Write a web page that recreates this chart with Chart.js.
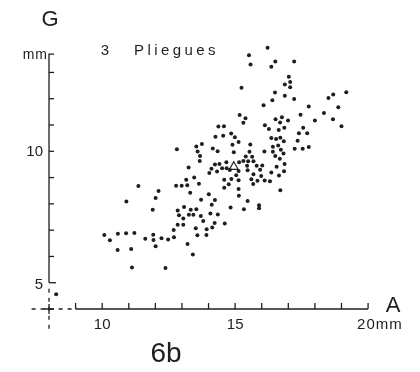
<!DOCTYPE html>
<html>
<head>
<meta charset="utf-8">
<script src="https://cdn.jsdelivr.net/npm/chart.js@4.4.1/dist/chart.umd.min.js"></script>
<style>
  html, body { margin: 0; padding: 0; background: #fff; }
  #wrap { width: 420px; height: 372px; position: relative; }
</style>
</head>
<body>
<div id="wrap"><canvas id="chart" width="420" height="372"></canvas></div>
<script>
// A (mm) and G (mm) readings for the 3-fold sample
const aValues = [
  16.22, 15.52, 15.58, 16.51, 16.36, 17.22, 17.02, 17.07, 16.87, 17.07,
  15.24, 16.50, 16.87, 17.22, 16.40, 19.18, 18.69, 18.51, 16.07, 17.77,
  18.88, 18.34, 17.46, 15.17, 15.39, 16.52, 16.76, 16.99, 18.00, 18.68,
  15.31, 16.69, 16.12, 16.27, 16.85, 19.00, 17.56, 14.37, 14.58, 17.40,
  17.71, 16.64, 14.26, 14.55, 14.85, 14.99, 16.36, 16.54, 16.70, 16.83,
  17.35, 15.13, 14.90, 15.57, 16.42, 16.62, 16.72, 17.24, 17.54, 17.77,
  12.81, 13.54, 13.75, 13.59, 14.16, 14.34, 14.95, 15.54, 16.10, 16.42,
  16.82, 16.51, 15.40, 15.64, 13.68, 16.68, 13.67, 15.31, 15.49, 15.69,
  15.15, 14.67, 16.86, 14.24, 14.41, 14.51, 15.81, 16.02, 16.56, 15.45,
  13.25, 14.11, 14.32, 14.03, 14.68, 14.80, 15.13, 15.47, 15.94, 16.36,
  16.84, 15.69, 15.98, 16.65, 15.04, 13.46, 13.16, 14.59, 14.86, 15.61,
  15.84, 16.11, 16.31, 15.13, 15.68, 14.76, 12.78, 12.99, 13.20, 13.64,
  11.36, 14.59, 15.13, 16.70, 13.31, 14.01, 12.12, 12.01, 10.91, 13.72,
  14.24, 15.14, 15.47, 14.12, 15.90, 15.90, 14.83, 15.33, 11.90, 13.08,
  12.84, 13.33, 13.54, 14.07, 14.35, 12.89, 13.26, 13.43, 13.71, 13.05,
  13.80, 14.23, 14.61, 12.84, 13.05, 14.14, 13.52, 13.93, 12.69, 10.08,
  10.59, 10.90, 11.21, 10.29, 11.62, 11.92, 11.93, 12.23, 12.48, 12.70,
  13.58, 13.92, 12.01, 13.21, 10.58, 11.09, 13.41, 11.12, 12.38, 8.27
];
const gValues = [
  13.94, 13.65, 13.30, 13.42, 13.22, 13.42, 12.84, 12.64, 12.54, 12.44,
  12.42, 12.24, 12.11, 11.99, 11.94, 12.25, 12.16, 12.03, 11.75, 11.70,
  11.68, 11.46, 11.39, 11.38, 11.26, 11.22, 11.30, 11.17, 11.17, 11.22,
  11.09, 11.10, 10.99, 10.85, 10.90, 10.95, 10.90, 10.94, 10.95, 10.69,
  10.69, 10.81, 10.55, 10.59, 10.68, 10.53, 10.51, 10.47, 10.52, 10.38,
  10.40, 10.35, 10.25, 10.26, 10.17, 10.22, 10.06, 10.10, 10.10, 10.16,
  10.08, 10.18, 10.28, 9.99, 10.11, 10.00, 9.96, 9.98, 9.99, 9.98,
  9.92, 9.82, 9.80, 9.79, 9.82, 9.72, 9.63, 9.63, 9.62, 9.62,
  9.58, 9.58, 9.52, 9.50, 9.52, 9.36, 9.45, 9.46, 9.41, 9.45,
  9.38, 9.34, 9.23, 9.17, 9.36, 9.29, 9.25, 9.28, 9.30, 9.19,
  9.24, 9.13, 9.06, 9.08, 9.09, 9.00, 8.92, 8.92, 8.95, 8.94,
  8.88, 8.89, 8.86, 8.90, 8.76, 8.75, 8.69, 8.69, 8.71, 8.77,
  8.68, 8.61, 8.57, 8.52, 8.42, 8.37, 8.49, 8.22, 8.09, 8.16,
  8.15, 8.31, 8.11, 7.97, 7.95, 7.83, 7.86, 7.80, 7.78, 7.88,
  7.75, 7.78, 7.80, 7.63, 7.60, 7.57, 7.59, 7.59, 7.54, 7.44,
  7.35, 7.27, 7.25, 7.21, 7.21, 7.10, 7.07, 7.03, 7.01, 6.82,
  6.86, 6.88, 6.89, 6.62, 6.67, 6.83, 6.63, 6.69, 6.64, 6.73,
  6.81, 6.82, 6.39, 6.47, 6.25, 6.28, 6.07, 5.58, 5.56, 4.56
];
// mean point (triangle)
const meanA = [14.95];
const meanG = [9.41];

// axis ticks
const xTicks = [9, 10, 11, 12, 13, 14, 15, 16, 17, 18, 19, 20];
const xTickLabels = { 10: '10', 15: '15', 20: '20mm' };
const yTicks = [5, 6, 7, 8, 9, 10, 11, 12, 13];
const yTickLabels = { 5: '5', 10: '10' };
const axisOrigin = [8, 4];
const yAxisTop = 13.7;

const ink = '#1e1e1e';
const font = '"Liberation Sans", Arial, sans-serif';

const toPoints = (xs, ys) => xs.map((x, i) => ({ x: x, y: ys[i] }));

// hand drawn looking axes with broken origin
const axesPlugin = {
    id: 'brokenAxes',
    afterDraw(chart) {
        const ctx = chart.ctx;
        const xs = chart.scales.x;
        const ys = chart.scales.y;
        const px = v => xs.getPixelForValue(v);
        const py = v => ys.getPixelForValue(v);

        const ax = px(axisOrigin[0]);
        const ay = py(axisOrigin[1]);
        const yStart = py(yTicks[0]);
        const yEnd = py(yAxisTop);
        const xStart = px(xTicks[0]);
        const xEnd = px(xTicks[xTicks.length - 1]);

        ctx.save();
        ctx.strokeStyle = ink;
        ctx.fillStyle = ink;
        ctx.lineWidth = 1.3;
        ctx.lineCap = 'butt';

        // solid y axis
        ctx.beginPath();
        ctx.moveTo(ax, yStart);
        ctx.lineTo(ax, yEnd);
        ctx.lineTo(ax + 5, yEnd);
        ctx.stroke();

        // y ticks
        yTicks.forEach(t => {
            ctx.beginPath();
            ctx.moveTo(ax, py(t));
            ctx.lineTo(ax + (t === 5 ? 7 : 5), py(t));
            ctx.stroke();
        });

        // solid x axis
        ctx.beginPath();
        ctx.moveTo(xStart, ay);
        ctx.lineTo(xEnd, ay);
        ctx.stroke();
        xTicks.forEach(t => {
            ctx.beginPath();
            ctx.moveTo(px(t), ay);
            ctx.lineTo(px(t), ay - 6);
            ctx.stroke();
        });

        // dashed parts around the origin
        ctx.setLineDash([4, 5]);
        ctx.beginPath();
        ctx.moveTo(ax, yStart + 6);
        ctx.lineTo(ax, ay + 22);
        ctx.stroke();
        ctx.beginPath();
        ctx.moveTo(xStart - 4, ay);
        ctx.lineTo(ax - 22, ay);
        ctx.stroke();
        ctx.setLineDash([]);
        // origin cross
        ctx.beginPath();
        ctx.moveTo(ax - 5, ay);
        ctx.lineTo(ax + 5, ay);
        ctx.moveTo(ax, ay - 5);
        ctx.lineTo(ax, ay + 5);
        ctx.stroke();

        // tick labels
        ctx.font = '15px ' + font;
        ctx.textBaseline = 'middle';
        ctx.textAlign = 'right';
        Object.keys(yTickLabels).forEach(k => {
            ctx.fillText(yTickLabels[k], ax - 6, py(+k) + (k === '5' ? 2 : 1));
        });
        ctx.textAlign = 'center';
        ctx.textBaseline = 'top';
        Object.keys(xTickLabels).forEach(k => {
            const label = xTickLabels[k];
            if (label.endsWith('mm')) {
                ctx.textAlign = 'left';
                ctx.letterSpacing = '1px';
                ctx.fillText(label, px(+k) - 11, ay + 8);
                ctx.letterSpacing = '0px';
                ctx.textAlign = 'center';
            } else {
                ctx.fillText(label, px(+k), ay + 8);
            }
        });

        // axis names and units
        ctx.font = '14px ' + font;
        ctx.textAlign = 'right';
        ctx.textBaseline = 'alphabetic';
        ctx.letterSpacing = '1px';
        ctx.fillText('mm', ax - 1, yEnd + 5);
        ctx.letterSpacing = '0px';

        ctx.font = '22px ' + font;
        ctx.textAlign = 'center';
        ctx.fillText('G', ax + 1, 26);
        ctx.fillText('A', xEnd + 25, ay + 3);

        ctx.font = '28px ' + font;
        ctx.fillText('6b', px(12.4), 362);

        // panel title
        ctx.font = '15px ' + font;
        ctx.textAlign = 'left';
        ctx.letterSpacing = '3.4px';
        ctx.fillText('3', px(9.95), 55);
        ctx.fillText('Pliegues', px(11.2), 55);
        ctx.restore();
    }
};

new Chart(document.getElementById('chart'), {
    type: 'scatter',
    data: {
        datasets: [
            {
                label: 'Pliegues',
                data: toPoints(aValues, gValues),
                pointRadius: 2,
                pointBackgroundColor: ink,
                pointBorderWidth: 0
            },
            {
                label: 'media',
                data: toPoints(meanA, meanG),
                pointStyle: 'triangle',
                pointRadius: 5,
                pointBackgroundColor: 'rgba(0,0,0,0)',
                pointBorderColor: ink,
                pointBorderWidth: 1.2
            }
        ]
    },
    options: {
        responsive: false,
        animation: false,
        devicePixelRatio: 1,
        layout: { padding: 0 },
        plugins: {
            legend: { display: false },
            tooltip: { enabled: false }
        },
        scales: {
            x: { type: 'linear', min: 6.39, max: 21.72, display: false },
            y: { type: 'linear', min: 1.84, max: 15.52, display: false }
        }
    },
    plugins: [axesPlugin]
});
</script>
</body>
</html>
